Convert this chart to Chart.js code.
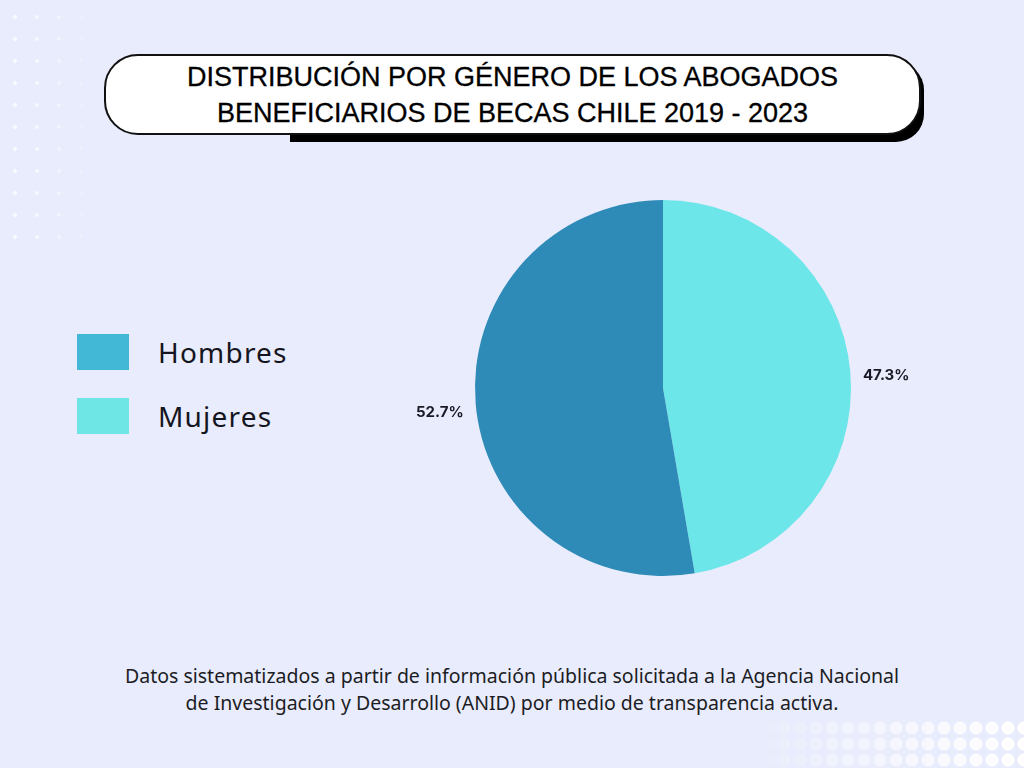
<!DOCTYPE html>
<html>
<head>
<meta charset="utf-8">
<script src="https://cdn.jsdelivr.net/npm/chart.js@4"></script>
<style>
  html, body { margin: 0; padding: 0; }
  body {
    width: 1024px; height: 768px; position: relative; overflow: hidden;
    background: #e9ecfc; font-family: "Noto Sans", sans-serif;
  }
  .dots-tl {
    position: absolute; left: 0; top: 0; width: 110px; height: 250px;
    background-image: radial-gradient(circle, rgba(255,255,255,0.85) 1.6px, transparent 2.2px);
    background-size: 22px 22px;
    background-position: 4px 6px;
    -webkit-mask-image: linear-gradient(to right, #000, transparent);
    mask-image: linear-gradient(to right, #000, transparent);
  }
  .dots-br {
    position: absolute; right: 0; bottom: 0; width: 280px; height: 48px;
    background-image: radial-gradient(circle, #fff 6px, transparent 7px);
    background-size: 16px 16px;
    -webkit-mask-image: linear-gradient(to right, transparent, rgba(0,0,0,0.5) 50%, #000);
    mask-image: linear-gradient(to right, transparent, rgba(0,0,0,0.5) 50%, #000);
  }
  .title-shadow {
    position: absolute; left: 290px; top: 62px; width: 634px; height: 80px;
    background: #000; border-radius: 0 28px 28px 0;
  }
  .title {
    position: absolute; left: 104px; top: 54px; width: 813px; height: 77px;
    background: #fff; border: 2px solid #111; border-radius: 34px;
    display: flex; align-items: center; justify-content: center;
    text-align: center; font-family: "Liberation Sans", Arial, sans-serif;
    font-size: 27px; line-height: 36px; color: #000;
    -webkit-text-stroke: 0.3px #000;
  }
  #legend { position: absolute; left: 77px; top: 334px; margin: 0; padding: 0; list-style: none; }
  #legend li { height: 36px; margin-bottom: 28px; display: flex; align-items: center; font-size: 28px; letter-spacing: 1.2px; color: #151520; }
  #legend i { display: inline-block; width: 52px; height: 36px; margin-right: 29px; }
  #chart-box { position: absolute; left: 363px; top: 168px; width: 600px; height: 440px; }
  .note {
    position: absolute; left: 0; width: 1024px; top: 662px; text-align: center;
    font-size: 19.5px; line-height: 27px; color: #1c1c24;
  }
</style>
</head>
<body>
<div class="dots-tl"></div>
<div class="dots-br"></div>
<div class="title-shadow"></div>
<div class="title"><span>DISTRIBUCIÓN POR GÉNERO DE LOS ABOGADOS<br>BENEFICIARIOS DE BECAS CHILE 2019 - 2023</span></div>
<ul id="legend"></ul>
<div id="chart-box"><canvas id="pie"></canvas></div>
<div class="note">Datos sistematizados a partir de información pública solicitada a la Agencia Nacional<br>de Investigación y Desarrollo (ANID) por medio de transparencia activa.</div>
<script>
// slices drawn clockwise from 12 o'clock
var categories = ['Mujeres', 'Hombres'];
var shares = [47.3, 52.7];
var sliceColors = ['#6ce6e8', '#2e8bb8'];

// legend shows Hombres first, with lighter swatches
var legendLabels = ['Hombres', 'Mujeres'];
var legendColors = ['#42b8d6', '#6ee6e6'];

var outsideLabels = {
    id: 'outsideLabels',
    afterDatasetsDraw: function(chart) {
        var ctx = chart.ctx;
        var meta = chart.getDatasetMeta(0);
        ctx.save();
        ctx.font = 'bold 15px Inter, "Liberation Sans", sans-serif';
        ctx.fillStyle = '#1a1a26';
        ctx.textAlign = 'center';
        ctx.textBaseline = 'middle';
        meta.data.forEach(function(arc, i) {
            var mid = (arc.startAngle + arc.endAngle) / 2;
            var r = arc.outerRadius + 36;
            var x = arc.x + Math.cos(mid) * r;
            var y = arc.y + Math.sin(mid) * r + 6;
            ctx.fillText(shares[i].toFixed(1) + '%', x, y);
        });
        ctx.restore();
    }
};

new Chart(document.getElementById('pie'), {
    type: 'pie',
    data: {
        labels: categories,
        datasets: [{
            data: shares,
            backgroundColor: sliceColors,
            borderWidth: 0,
            hoverOffset: 0
        }]
    },
    options: {
        responsive: true,
        maintainAspectRatio: false,
        animation: false,
        layout: { padding: { left: 112, right: 112, top: 32, bottom: 32 } },
        plugins: {
            legend: { display: false },
            tooltip: { enabled: false }
        }
    },
    plugins: [outsideLabels]
});

var legend = document.getElementById('legend');
legend.innerHTML = legendLabels.map(function(label, i) {
    return '<li><i style="background:' + legendColors[i] + '"></i>' + label + '</li>';
}).join('');
</script>
</body>
</html>
